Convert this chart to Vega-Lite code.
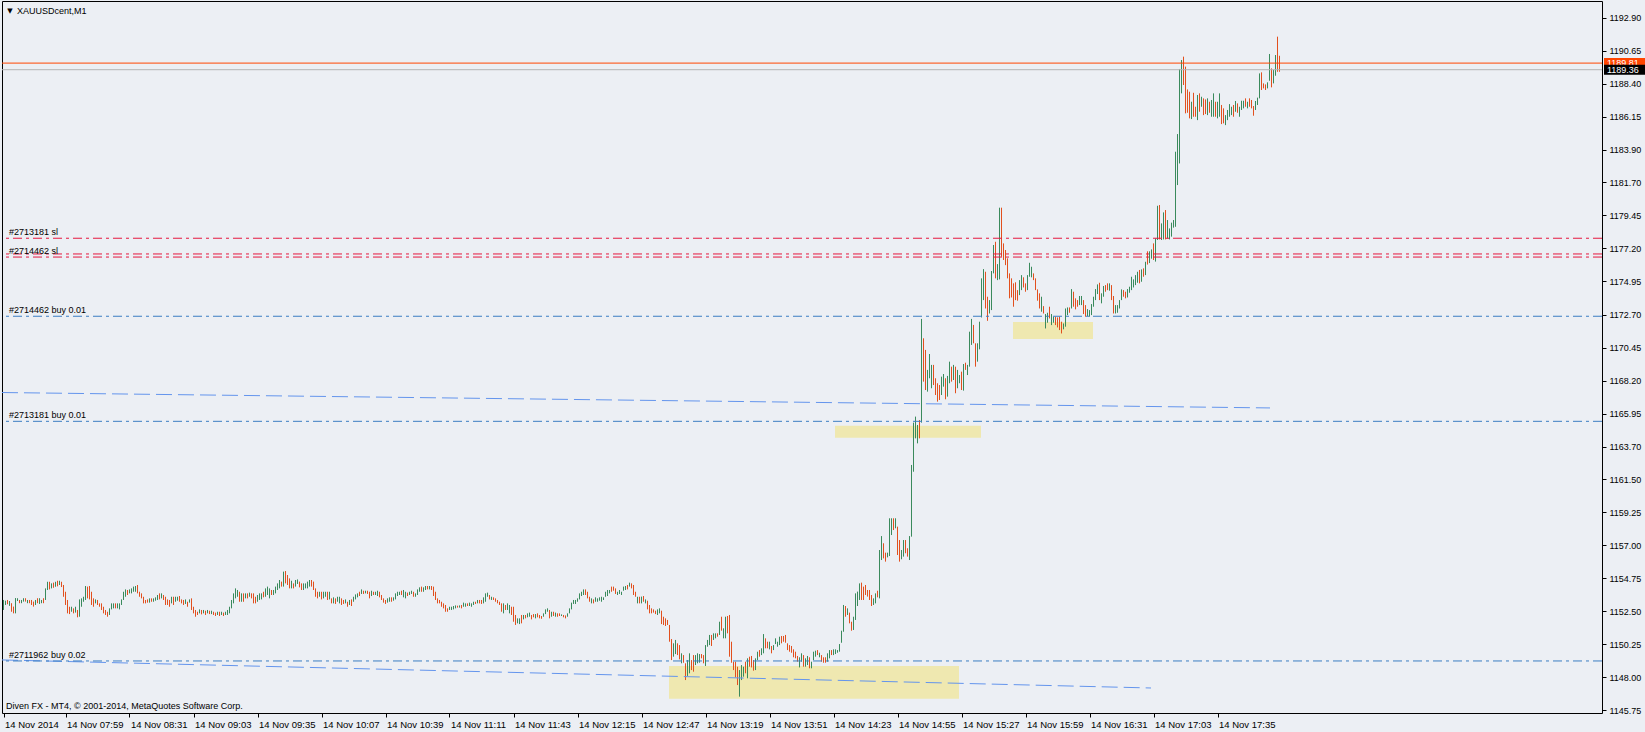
{
"$schema": "https://vega.github.io/schema/vega-lite/v6.json",
"width": 1600, "height": 712,
"autosize": {"type": "none"},
"padding": {"left": 2, "top": 1, "right": 43, "bottom": 19},
"background": "#ECEFF4",
"config": {"view": {"stroke": "#000000", "strokeWidth": 1, "fill": "#ECEFF4"}, "text": {"font": "Liberation Sans"},
 "axis": {"grid": false, "domain": false, "tickSize": 4, "tickColor": "#000000", "labelColor": "#000000", "labelFont": "Liberation Sans", "labelFlush": false, "labelOverlap": false}},
"resolve": {"scale": {"color": "independent", "strokeDash": "independent"}},
"datasets": {
"zones": [{"a":780.75,"b":925.75,"lo":1146.55,"hi":1148.78},{"a":863.75,"b":936.75,"lo":1164.32,"hi":1165.13},{"a":952.75,"b":992.75,"lo":1171.03,"hi":1172.19}],
"ma": [{"id":"a","m":447.25,"p":1167.39},{"id":"a","m":1081.25,"p":1166.34},{"id":"b","m":447.25,"p":1149.19},{"id":"b","m":1021.75,"p":1147.28}],
"levels": [{"k":"sl","p":1177.89,"t":"#2713181 sl"},{"k":"sl","p":1176.82,"t":""},{"k":"sl","p":1176.61,"t":"#2714462 sl"},{"k":"buy","p":1172.58,"t":"#2714462 buy 0.01"},{"k":"buy","p":1165.43,"t":"#2713181 buy 0.01"},{"k":"buy","p":1149.12,"t":"#2711962 buy 0.02"},{"k":"hi","p":1189.81,"t":""},{"k":"lo","p":1189.36,"t":""}],
"tags": [{"c":"hi","p":1189.81,"t":"1189.81"},{"c":"lo","p":1189.36,"t":"1189.36"}],
"notes": [{"r":"sym","t":"▼"},{"r":"title","t":"XAUUSDcent,M1"},{"r":"foot","t":"Diven FX - MT4, © 2001-2014, MetaQuotes Software Corp."}],
"bars": [
{"m":448,"l":1152.59,"h":1153.27,"u":1},{"m":449,"l":1152.93,"h":1153.22,"u":1},{"m":450,"l":1152.98,"h":1153.27,"u":0},{"m":451,"l":1152.87,"h":1153.20,"u":1},{"m":452,"l":1152.47,"h":1153.05,"u":0},{"m":453,"l":1152.36,"h":1152.82,"u":0},{"m":454,"l":1152.36,"h":1153.40,"u":1},{"m":455,"l":1153.20,"h":1153.39,"u":1},{"m":456,"l":1153.05,"h":1153.27,"u":0},{"m":457,"l":1153.05,"h":1153.27,"u":1},
{"m":458,"l":1153.16,"h":1153.39,"u":1},{"m":459,"l":1153.16,"h":1153.39,"u":0},{"m":460,"l":1153.05,"h":1153.27,"u":1},{"m":461,"l":1153.05,"h":1153.27,"u":0},{"m":462,"l":1152.93,"h":1153.27,"u":0},{"m":463,"l":1152.82,"h":1153.16,"u":0},{"m":464,"l":1152.93,"h":1153.27,"u":1},{"m":465,"l":1153.05,"h":1153.39,"u":0},{"m":466,"l":1153.00,"h":1153.39,"u":1},{"m":467,"l":1153.05,"h":1153.27,"u":1},
{"m":468,"l":1153.05,"h":1153.39,"u":0},{"m":469,"l":1153.27,"h":1154.06,"u":1},{"m":470,"l":1153.95,"h":1154.51,"u":1},{"m":471,"l":1153.99,"h":1154.51,"u":0},{"m":472,"l":1154.06,"h":1154.40,"u":1},{"m":473,"l":1154.10,"h":1154.45,"u":0},{"m":474,"l":1154.17,"h":1154.51,"u":1},{"m":475,"l":1154.20,"h":1154.58,"u":0},{"m":476,"l":1154.29,"h":1154.58,"u":1},{"m":477,"l":1154.15,"h":1154.51,"u":0},
{"m":478,"l":1153.49,"h":1154.29,"u":0},{"m":479,"l":1152.93,"h":1153.83,"u":0},{"m":480,"l":1152.36,"h":1153.27,"u":0},{"m":481,"l":1152.31,"h":1152.81,"u":0},{"m":482,"l":1152.47,"h":1152.81,"u":1},{"m":483,"l":1152.36,"h":1152.70,"u":0},{"m":484,"l":1152.41,"h":1152.81,"u":1},{"m":485,"l":1152.09,"h":1152.59,"u":0},{"m":486,"l":1152.13,"h":1153.31,"u":1},{"m":487,"l":1152.81,"h":1153.38,"u":1},
{"m":488,"l":1153.15,"h":1153.49,"u":1},{"m":489,"l":1153.27,"h":1154.22,"u":1},{"m":490,"l":1153.38,"h":1154.18,"u":0},{"m":491,"l":1153.31,"h":1154.22,"u":0},{"m":492,"l":1152.93,"h":1153.83,"u":0},{"m":493,"l":1152.81,"h":1153.38,"u":0},{"m":494,"l":1153.04,"h":1153.31,"u":1},{"m":495,"l":1152.93,"h":1153.27,"u":0},{"m":496,"l":1152.81,"h":1153.04,"u":0},{"m":497,"l":1152.59,"h":1153.04,"u":0},
{"m":498,"l":1152.36,"h":1152.81,"u":0},{"m":499,"l":1152.25,"h":1152.59,"u":0},{"m":500,"l":1152.13,"h":1152.47,"u":0},{"m":501,"l":1152.25,"h":1152.70,"u":1},{"m":502,"l":1152.63,"h":1153.04,"u":1},{"m":503,"l":1152.70,"h":1153.04,"u":1},{"m":504,"l":1152.70,"h":1153.04,"u":0},{"m":505,"l":1152.70,"h":1153.04,"u":1},{"m":506,"l":1152.63,"h":1153.04,"u":1},{"m":507,"l":1152.93,"h":1153.31,"u":1},
{"m":508,"l":1153.27,"h":1153.83,"u":1},{"m":509,"l":1153.49,"h":1153.99,"u":1},{"m":510,"l":1153.61,"h":1153.95,"u":0},{"m":511,"l":1153.72,"h":1153.99,"u":1},{"m":512,"l":1153.72,"h":1154.06,"u":1},{"m":513,"l":1153.83,"h":1154.18,"u":1},{"m":514,"l":1153.83,"h":1154.22,"u":1},{"m":515,"l":1153.72,"h":1154.29,"u":0},{"m":516,"l":1153.49,"h":1153.83,"u":0},{"m":517,"l":1153.38,"h":1153.72,"u":0},
{"m":518,"l":1153.04,"h":1153.49,"u":0},{"m":519,"l":1153.04,"h":1153.27,"u":0},{"m":520,"l":1153.09,"h":1153.31,"u":0},{"m":521,"l":1153.09,"h":1153.38,"u":1},{"m":522,"l":1153.15,"h":1153.38,"u":0},{"m":523,"l":1153.15,"h":1153.38,"u":1},{"m":524,"l":1153.22,"h":1153.45,"u":1},{"m":525,"l":1153.27,"h":1153.61,"u":1},{"m":526,"l":1153.31,"h":1153.72,"u":0},{"m":527,"l":1153.38,"h":1153.72,"u":1},
{"m":528,"l":1153.27,"h":1153.61,"u":0},{"m":529,"l":1152.93,"h":1153.49,"u":0},{"m":530,"l":1152.93,"h":1153.31,"u":0},{"m":531,"l":1152.81,"h":1153.27,"u":0},{"m":532,"l":1153.04,"h":1153.49,"u":1},{"m":533,"l":1152.93,"h":1153.49,"u":0},{"m":534,"l":1153.15,"h":1153.49,"u":1},{"m":535,"l":1153.22,"h":1153.49,"u":1},{"m":536,"l":1153.15,"h":1153.54,"u":0},{"m":537,"l":1153.04,"h":1153.31,"u":0},
{"m":538,"l":1152.93,"h":1153.27,"u":0},{"m":539,"l":1153.00,"h":1153.31,"u":1},{"m":540,"l":1152.81,"h":1153.15,"u":0},{"m":541,"l":1153.09,"h":1153.31,"u":1},{"m":542,"l":1152.59,"h":1153.38,"u":0},{"m":543,"l":1152.36,"h":1152.81,"u":0},{"m":544,"l":1152.13,"h":1152.59,"u":0},{"m":545,"l":1152.25,"h":1152.47,"u":0},{"m":546,"l":1152.36,"h":1152.63,"u":1},{"m":547,"l":1152.29,"h":1152.59,"u":0},
{"m":548,"l":1152.36,"h":1152.59,"u":1},{"m":549,"l":1152.25,"h":1152.54,"u":0},{"m":550,"l":1152.36,"h":1152.59,"u":1},{"m":551,"l":1152.31,"h":1152.54,"u":0},{"m":552,"l":1152.31,"h":1152.54,"u":1},{"m":553,"l":1152.25,"h":1152.47,"u":0},{"m":554,"l":1152.18,"h":1152.41,"u":0},{"m":555,"l":1152.25,"h":1152.47,"u":1},{"m":556,"l":1152.18,"h":1152.47,"u":0},{"m":557,"l":1152.25,"h":1152.47,"u":1},
{"m":558,"l":1152.18,"h":1152.41,"u":0},{"m":559,"l":1152.25,"h":1152.47,"u":1},{"m":560,"l":1152.25,"h":1152.59,"u":1},{"m":561,"l":1152.36,"h":1152.81,"u":1},{"m":562,"l":1152.70,"h":1153.27,"u":1},{"m":563,"l":1153.04,"h":1153.72,"u":1},{"m":564,"l":1153.38,"h":1154.06,"u":1},{"m":565,"l":1153.49,"h":1153.95,"u":1},{"m":566,"l":1153.15,"h":1153.83,"u":0},{"m":567,"l":1153.15,"h":1153.72,"u":1},
{"m":568,"l":1153.15,"h":1153.72,"u":0},{"m":569,"l":1153.38,"h":1153.72,"u":1},{"m":570,"l":1153.38,"h":1153.72,"u":0},{"m":571,"l":1153.49,"h":1153.77,"u":1},{"m":572,"l":1153.38,"h":1153.72,"u":0},{"m":573,"l":1153.04,"h":1153.72,"u":0},{"m":574,"l":1153.04,"h":1153.49,"u":0},{"m":575,"l":1153.15,"h":1153.61,"u":1},{"m":576,"l":1153.27,"h":1153.72,"u":1},{"m":577,"l":1153.31,"h":1153.72,"u":1},
{"m":578,"l":1153.45,"h":1153.83,"u":0},{"m":579,"l":1153.49,"h":1154.06,"u":1},{"m":580,"l":1153.61,"h":1154.18,"u":1},{"m":581,"l":1153.38,"h":1154.06,"u":1},{"m":582,"l":1153.61,"h":1153.95,"u":0},{"m":583,"l":1153.61,"h":1153.95,"u":1},{"m":584,"l":1153.72,"h":1154.18,"u":1},{"m":585,"l":1153.95,"h":1154.40,"u":1},{"m":586,"l":1154.06,"h":1154.63,"u":1},{"m":587,"l":1154.18,"h":1154.52,"u":0},
{"m":588,"l":1154.18,"h":1155.20,"u":1},{"m":589,"l":1154.40,"h":1155.24,"u":0},{"m":590,"l":1154.29,"h":1154.97,"u":0},{"m":591,"l":1154.06,"h":1154.74,"u":0},{"m":592,"l":1154.06,"h":1154.58,"u":1},{"m":593,"l":1154.06,"h":1154.40,"u":0},{"m":594,"l":1154.18,"h":1154.63,"u":1},{"m":595,"l":1154.36,"h":1154.67,"u":1},{"m":596,"l":1154.13,"h":1154.52,"u":0},{"m":597,"l":1153.95,"h":1154.40,"u":0},
{"m":598,"l":1153.95,"h":1154.40,"u":1},{"m":599,"l":1154.06,"h":1154.40,"u":1},{"m":600,"l":1154.06,"h":1154.52,"u":1},{"m":601,"l":1154.18,"h":1154.63,"u":1},{"m":602,"l":1154.18,"h":1154.63,"u":0},{"m":603,"l":1153.95,"h":1154.52,"u":0},{"m":604,"l":1153.49,"h":1154.06,"u":0},{"m":605,"l":1153.38,"h":1153.83,"u":0},{"m":606,"l":1153.49,"h":1153.83,"u":1},{"m":607,"l":1153.31,"h":1153.83,"u":0},
{"m":608,"l":1153.38,"h":1153.83,"u":1},{"m":609,"l":1153.49,"h":1153.83,"u":1},{"m":610,"l":1153.27,"h":1153.83,"u":0},{"m":611,"l":1153.31,"h":1153.83,"u":1},{"m":612,"l":1153.04,"h":1153.38,"u":0},{"m":613,"l":1153.04,"h":1153.45,"u":1},{"m":614,"l":1153.00,"h":1153.38,"u":0},{"m":615,"l":1153.15,"h":1153.49,"u":1},{"m":616,"l":1153.04,"h":1153.49,"u":1},{"m":617,"l":1152.93,"h":1153.38,"u":0},
{"m":618,"l":1153.00,"h":1153.27,"u":0},{"m":619,"l":1153.04,"h":1153.31,"u":1},{"m":620,"l":1152.81,"h":1153.15,"u":0},{"m":621,"l":1152.93,"h":1153.27,"u":1},{"m":622,"l":1152.86,"h":1153.31,"u":0},{"m":623,"l":1153.15,"h":1153.49,"u":1},{"m":624,"l":1153.31,"h":1153.65,"u":1},{"m":625,"l":1153.45,"h":1153.72,"u":1},{"m":626,"l":1153.54,"h":1153.83,"u":0},{"m":627,"l":1153.68,"h":1153.99,"u":1},
{"m":628,"l":1153.68,"h":1153.90,"u":0},{"m":629,"l":1153.72,"h":1153.90,"u":1},{"m":630,"l":1153.68,"h":1153.90,"u":0},{"m":631,"l":1153.38,"h":1153.83,"u":0},{"m":632,"l":1153.54,"h":1153.90,"u":1},{"m":633,"l":1153.61,"h":1153.83,"u":0},{"m":634,"l":1153.61,"h":1153.83,"u":1},{"m":635,"l":1153.54,"h":1153.90,"u":1},{"m":636,"l":1153.45,"h":1153.83,"u":0},{"m":637,"l":1153.27,"h":1153.61,"u":0},
{"m":638,"l":1153.09,"h":1153.38,"u":0},{"m":639,"l":1153.00,"h":1153.27,"u":0},{"m":640,"l":1153.09,"h":1153.38,"u":1},{"m":641,"l":1153.15,"h":1153.45,"u":1},{"m":642,"l":1153.15,"h":1153.45,"u":0},{"m":643,"l":1153.22,"h":1153.45,"u":1},{"m":644,"l":1153.31,"h":1153.72,"u":1},{"m":645,"l":1153.54,"h":1153.83,"u":1},{"m":646,"l":1153.61,"h":1153.83,"u":1},{"m":647,"l":1153.61,"h":1153.90,"u":0},
{"m":648,"l":1153.45,"h":1153.95,"u":1},{"m":649,"l":1153.38,"h":1153.83,"u":1},{"m":650,"l":1153.54,"h":1153.77,"u":0},{"m":651,"l":1153.61,"h":1153.83,"u":1},{"m":652,"l":1153.68,"h":1153.90,"u":1},{"m":653,"l":1153.49,"h":1153.83,"u":0},{"m":654,"l":1153.49,"h":1153.72,"u":1},{"m":655,"l":1153.61,"h":1153.99,"u":1},{"m":656,"l":1153.83,"h":1154.13,"u":1},{"m":657,"l":1153.83,"h":1154.18,"u":0},
{"m":658,"l":1153.83,"h":1154.13,"u":1},{"m":659,"l":1153.95,"h":1154.22,"u":1},{"m":660,"l":1153.99,"h":1154.22,"u":0},{"m":661,"l":1153.99,"h":1154.22,"u":1},{"m":662,"l":1153.95,"h":1154.22,"u":0},{"m":663,"l":1153.54,"h":1154.18,"u":0},{"m":664,"l":1153.27,"h":1153.83,"u":0},{"m":665,"l":1153.04,"h":1153.38,"u":0},{"m":666,"l":1153.04,"h":1153.27,"u":0},{"m":667,"l":1152.81,"h":1153.15,"u":0},
{"m":668,"l":1152.70,"h":1153.04,"u":0},{"m":669,"l":1152.47,"h":1152.93,"u":0},{"m":670,"l":1152.47,"h":1152.70,"u":0},{"m":671,"l":1152.59,"h":1152.81,"u":1},{"m":672,"l":1152.59,"h":1152.81,"u":1},{"m":673,"l":1152.63,"h":1152.86,"u":1},{"m":674,"l":1152.70,"h":1152.90,"u":1},{"m":675,"l":1152.75,"h":1152.88,"u":0},{"m":676,"l":1152.75,"h":1152.90,"u":1},{"m":677,"l":1152.70,"h":1152.93,"u":0},
{"m":678,"l":1152.81,"h":1153.09,"u":1},{"m":679,"l":1152.81,"h":1153.04,"u":1},{"m":680,"l":1152.86,"h":1153.04,"u":0},{"m":681,"l":1152.86,"h":1153.09,"u":1},{"m":682,"l":1152.81,"h":1153.04,"u":1},{"m":683,"l":1152.93,"h":1153.15,"u":1},{"m":684,"l":1153.00,"h":1153.15,"u":0},{"m":685,"l":1153.04,"h":1153.27,"u":1},{"m":686,"l":1153.04,"h":1153.27,"u":0},{"m":687,"l":1153.00,"h":1153.27,"u":0},
{"m":688,"l":1153.04,"h":1153.45,"u":1},{"m":689,"l":1153.15,"h":1153.72,"u":1},{"m":690,"l":1153.49,"h":1153.77,"u":1},{"m":691,"l":1153.31,"h":1153.61,"u":0},{"m":692,"l":1153.27,"h":1153.49,"u":1},{"m":693,"l":1153.27,"h":1153.45,"u":0},{"m":694,"l":1153.15,"h":1153.38,"u":0},{"m":695,"l":1153.04,"h":1153.27,"u":0},{"m":696,"l":1152.93,"h":1153.15,"u":0},{"m":697,"l":1152.47,"h":1153.04,"u":0},
{"m":698,"l":1152.36,"h":1153.04,"u":1},{"m":699,"l":1152.59,"h":1152.93,"u":0},{"m":700,"l":1152.59,"h":1153.04,"u":1},{"m":701,"l":1152.36,"h":1152.93,"u":1},{"m":702,"l":1152.25,"h":1152.81,"u":0},{"m":703,"l":1151.79,"h":1152.81,"u":0},{"m":704,"l":1151.57,"h":1152.25,"u":0},{"m":705,"l":1151.68,"h":1152.02,"u":1},{"m":706,"l":1151.63,"h":1152.02,"u":1},{"m":707,"l":1151.68,"h":1152.25,"u":0},
{"m":708,"l":1151.95,"h":1152.25,"u":1},{"m":709,"l":1152.02,"h":1152.25,"u":0},{"m":710,"l":1152.09,"h":1152.36,"u":1},{"m":711,"l":1152.13,"h":1152.41,"u":1},{"m":712,"l":1151.95,"h":1152.25,"u":0},{"m":713,"l":1152.09,"h":1152.31,"u":0},{"m":714,"l":1152.02,"h":1152.31,"u":1},{"m":715,"l":1152.09,"h":1152.36,"u":0},{"m":716,"l":1152.02,"h":1152.25,"u":0},{"m":717,"l":1151.99,"h":1152.18,"u":0},
{"m":718,"l":1152.13,"h":1152.36,"u":1},{"m":719,"l":1152.31,"h":1152.63,"u":1},{"m":720,"l":1152.47,"h":1152.70,"u":1},{"m":721,"l":1152.02,"h":1152.59,"u":0},{"m":722,"l":1152.13,"h":1152.47,"u":1},{"m":723,"l":1152.18,"h":1152.47,"u":0},{"m":724,"l":1152.13,"h":1152.41,"u":1},{"m":725,"l":1152.13,"h":1152.36,"u":0},{"m":726,"l":1152.18,"h":1152.36,"u":0},{"m":727,"l":1152.18,"h":1152.29,"u":1},
{"m":728,"l":1152.09,"h":1152.25,"u":0},{"m":729,"l":1152.02,"h":1152.22,"u":0},{"m":730,"l":1152.13,"h":1152.36,"u":1},{"m":731,"l":1152.36,"h":1152.70,"u":1},{"m":732,"l":1152.63,"h":1153.09,"u":1},{"m":733,"l":1153.00,"h":1153.27,"u":1},{"m":734,"l":1153.00,"h":1153.27,"u":1},{"m":735,"l":1153.15,"h":1153.38,"u":1},{"m":736,"l":1153.31,"h":1153.72,"u":1},{"m":737,"l":1153.54,"h":1153.83,"u":1},
{"m":738,"l":1153.61,"h":1153.99,"u":1},{"m":739,"l":1153.61,"h":1153.99,"u":0},{"m":740,"l":1153.38,"h":1153.83,"u":0},{"m":741,"l":1153.15,"h":1153.49,"u":0},{"m":742,"l":1153.04,"h":1153.38,"u":1},{"m":743,"l":1153.04,"h":1153.31,"u":0},{"m":744,"l":1153.15,"h":1153.45,"u":1},{"m":745,"l":1153.15,"h":1153.38,"u":1},{"m":746,"l":1153.22,"h":1153.45,"u":1},{"m":747,"l":1153.15,"h":1153.49,"u":1},
{"m":748,"l":1153.27,"h":1153.45,"u":1},{"m":749,"l":1153.49,"h":1153.83,"u":1},{"m":750,"l":1153.54,"h":1153.95,"u":1},{"m":751,"l":1153.72,"h":1153.95,"u":1},{"m":752,"l":1153.83,"h":1154.18,"u":0},{"m":753,"l":1153.90,"h":1154.18,"u":0},{"m":754,"l":1153.68,"h":1154.06,"u":0},{"m":755,"l":1153.61,"h":1153.83,"u":1},{"m":756,"l":1153.68,"h":1153.95,"u":1},{"m":757,"l":1153.61,"h":1153.83,"u":1},
{"m":758,"l":1153.90,"h":1154.18,"u":1},{"m":759,"l":1153.95,"h":1154.22,"u":1},{"m":760,"l":1153.99,"h":1154.29,"u":0},{"m":761,"l":1154.18,"h":1154.45,"u":1},{"m":762,"l":1154.06,"h":1154.40,"u":0},{"m":763,"l":1153.61,"h":1154.29,"u":0},{"m":764,"l":1153.49,"h":1153.83,"u":0},{"m":765,"l":1153.04,"h":1153.49,"u":1},{"m":766,"l":1153.04,"h":1153.49,"u":0},{"m":767,"l":1153.04,"h":1153.50,"u":1},
{"m":768,"l":1153.15,"h":1153.54,"u":0},{"m":769,"l":1153.04,"h":1153.31,"u":1},{"m":770,"l":1152.63,"h":1153.22,"u":0},{"m":771,"l":1152.36,"h":1152.93,"u":0},{"m":772,"l":1152.36,"h":1152.70,"u":0},{"m":773,"l":1152.41,"h":1152.63,"u":0},{"m":774,"l":1152.31,"h":1152.54,"u":0},{"m":775,"l":1152.25,"h":1152.63,"u":1},{"m":776,"l":1152.36,"h":1152.70,"u":1},{"m":777,"l":1151.63,"h":1152.54,"u":0},
{"m":778,"l":1151.57,"h":1152.13,"u":0},{"m":779,"l":1151.50,"h":1152.02,"u":0},{"m":780,"l":1151.57,"h":1151.91,"u":0},{"m":781,"l":1150.43,"h":1151.57,"u":0},{"m":782,"l":1149.18,"h":1150.61,"u":0},{"m":783,"l":1149.41,"h":1150.32,"u":1},{"m":784,"l":1149.59,"h":1150.55,"u":1},{"m":785,"l":1149.52,"h":1150.32,"u":0},{"m":786,"l":1149.23,"h":1150.20,"u":0},{"m":787,"l":1148.96,"h":1149.64,"u":1},
{"m":788,"l":1149.00,"h":1149.52,"u":0},{"m":789,"l":1147.82,"h":1148.96,"u":0},{"m":790,"l":1148.10,"h":1149.18,"u":1},{"m":791,"l":1148.28,"h":1149.64,"u":1},{"m":792,"l":1148.50,"h":1149.18,"u":0},{"m":793,"l":1148.39,"h":1149.52,"u":0},{"m":794,"l":1148.84,"h":1149.52,"u":1},{"m":795,"l":1148.96,"h":1149.64,"u":1},{"m":796,"l":1149.00,"h":1149.59,"u":1},{"m":797,"l":1149.30,"h":1149.59,"u":0},
{"m":798,"l":1148.96,"h":1149.52,"u":0},{"m":799,"l":1148.78,"h":1150.20,"u":1},{"m":800,"l":1150.09,"h":1150.55,"u":1},{"m":801,"l":1150.20,"h":1150.89,"u":1},{"m":802,"l":1150.14,"h":1150.89,"u":0},{"m":803,"l":1150.55,"h":1151.00,"u":1},{"m":804,"l":1150.66,"h":1151.00,"u":1},{"m":805,"l":1150.77,"h":1151.00,"u":0},{"m":806,"l":1150.89,"h":1151.79,"u":1},{"m":807,"l":1151.18,"h":1152.13,"u":0},
{"m":808,"l":1150.66,"h":1151.34,"u":1},{"m":809,"l":1150.66,"h":1152.13,"u":1},{"m":810,"l":1151.00,"h":1152.18,"u":0},{"m":811,"l":1149.41,"h":1152.25,"u":0},{"m":812,"l":1149.00,"h":1150.43,"u":0},{"m":813,"l":1148.50,"h":1149.07,"u":0},{"m":814,"l":1148.00,"h":1149.07,"u":0},{"m":815,"l":1147.48,"h":1148.73,"u":0},{"m":816,"l":1146.69,"h":1148.50,"u":1},{"m":817,"l":1147.82,"h":1148.84,"u":1},
{"m":818,"l":1148.05,"h":1148.73,"u":1},{"m":819,"l":1148.28,"h":1149.07,"u":0},{"m":820,"l":1147.94,"h":1149.30,"u":1},{"m":821,"l":1148.73,"h":1149.41,"u":0},{"m":822,"l":1148.68,"h":1149.46,"u":0},{"m":823,"l":1148.46,"h":1149.18,"u":0},{"m":824,"l":1148.50,"h":1149.30,"u":1},{"m":825,"l":1149.18,"h":1149.75,"u":1},{"m":826,"l":1149.41,"h":1149.86,"u":0},{"m":827,"l":1149.52,"h":1149.98,"u":1},
{"m":828,"l":1149.64,"h":1150.95,"u":1},{"m":829,"l":1149.98,"h":1150.66,"u":0},{"m":830,"l":1149.98,"h":1150.43,"u":0},{"m":831,"l":1149.91,"h":1150.43,"u":1},{"m":832,"l":1149.64,"h":1150.14,"u":0},{"m":833,"l":1149.86,"h":1150.20,"u":1},{"m":834,"l":1150.27,"h":1150.66,"u":1},{"m":835,"l":1150.09,"h":1150.43,"u":1},{"m":836,"l":1150.20,"h":1150.77,"u":1},{"m":837,"l":1150.32,"h":1150.82,"u":0},
{"m":838,"l":1150.43,"h":1150.82,"u":0},{"m":839,"l":1150.36,"h":1150.89,"u":0},{"m":840,"l":1149.86,"h":1150.32,"u":0},{"m":841,"l":1149.75,"h":1150.20,"u":0},{"m":842,"l":1149.68,"h":1150.14,"u":0},{"m":843,"l":1149.37,"h":1149.91,"u":0},{"m":844,"l":1149.30,"h":1149.75,"u":0},{"m":845,"l":1149.07,"h":1149.46,"u":0},{"m":846,"l":1148.68,"h":1149.37,"u":1},{"m":847,"l":1149.07,"h":1149.64,"u":1},
{"m":848,"l":1148.73,"h":1149.52,"u":0},{"m":849,"l":1148.73,"h":1149.30,"u":1},{"m":850,"l":1148.84,"h":1149.46,"u":1},{"m":851,"l":1148.62,"h":1149.37,"u":0},{"m":852,"l":1148.62,"h":1149.07,"u":1},{"m":853,"l":1149.18,"h":1149.75,"u":1},{"m":854,"l":1149.41,"h":1149.82,"u":1},{"m":855,"l":1149.52,"h":1149.86,"u":0},{"m":856,"l":1149.37,"h":1149.68,"u":1},{"m":857,"l":1149.07,"h":1149.52,"u":0},
{"m":858,"l":1149.00,"h":1149.37,"u":0},{"m":859,"l":1149.00,"h":1149.37,"u":0},{"m":860,"l":1149.07,"h":1149.64,"u":1},{"m":861,"l":1149.30,"h":1149.86,"u":1},{"m":862,"l":1149.52,"h":1149.86,"u":0},{"m":863,"l":1149.52,"h":1149.91,"u":1},{"m":864,"l":1149.59,"h":1149.91,"u":1},{"m":865,"l":1149.68,"h":1149.86,"u":1},{"m":866,"l":1149.75,"h":1150.27,"u":1},{"m":867,"l":1150.36,"h":1151.18,"u":1},
{"m":868,"l":1151.11,"h":1152.93,"u":1},{"m":869,"l":1152.13,"h":1152.86,"u":0},{"m":870,"l":1152.25,"h":1152.70,"u":1},{"m":871,"l":1151.68,"h":1152.41,"u":0},{"m":872,"l":1151.18,"h":1151.79,"u":0},{"m":873,"l":1151.23,"h":1152.13,"u":1},{"m":874,"l":1151.91,"h":1153.72,"u":1},{"m":875,"l":1152.86,"h":1153.84,"u":1},{"m":876,"l":1153.27,"h":1154.40,"u":1},{"m":877,"l":1153.27,"h":1154.45,"u":0},
{"m":878,"l":1153.27,"h":1154.18,"u":0},{"m":879,"l":1153.61,"h":1154.29,"u":0},{"m":880,"l":1153.50,"h":1153.95,"u":0},{"m":881,"l":1153.27,"h":1153.95,"u":0},{"m":882,"l":1152.86,"h":1153.61,"u":0},{"m":883,"l":1152.93,"h":1153.38,"u":1},{"m":884,"l":1153.04,"h":1153.72,"u":1},{"m":885,"l":1153.45,"h":1153.90,"u":0},{"m":886,"l":1153.38,"h":1156.67,"u":1},{"m":887,"l":1155.99,"h":1157.62,"u":1},
{"m":888,"l":1156.10,"h":1157.13,"u":0},{"m":889,"l":1155.88,"h":1156.49,"u":0},{"m":890,"l":1156.17,"h":1156.49,"u":1},{"m":891,"l":1156.26,"h":1158.83,"u":1},{"m":892,"l":1157.69,"h":1158.83,"u":1},{"m":893,"l":1158.03,"h":1158.83,"u":0},{"m":894,"l":1158.15,"h":1158.83,"u":1},{"m":895,"l":1156.33,"h":1158.26,"u":0},{"m":896,"l":1155.88,"h":1157.35,"u":0},{"m":897,"l":1156.04,"h":1156.67,"u":1},
{"m":898,"l":1156.22,"h":1157.35,"u":1},{"m":899,"l":1156.45,"h":1157.35,"u":0},{"m":900,"l":1156.22,"h":1156.79,"u":0},{"m":901,"l":1155.99,"h":1157.62,"u":1},{"m":902,"l":1157.58,"h":1162.46,"u":1},{"m":903,"l":1162.00,"h":1165.34,"u":1},{"m":904,"l":1164.27,"h":1165.75,"u":1},{"m":905,"l":1163.93,"h":1165.18,"u":1},{"m":906,"l":1164.27,"h":1165.52,"u":0},{"m":907,"l":1165.34,"h":1172.40,"u":1},
{"m":908,"l":1168.13,"h":1171.08,"u":0},{"m":909,"l":1167.56,"h":1170.29,"u":0},{"m":910,"l":1167.45,"h":1168.93,"u":1},{"m":911,"l":1168.36,"h":1170.01,"u":1},{"m":912,"l":1167.68,"h":1169.27,"u":1},{"m":913,"l":1167.90,"h":1169.27,"u":0},{"m":914,"l":1167.22,"h":1168.36,"u":0},{"m":915,"l":1166.77,"h":1168.02,"u":0},{"m":916,"l":1166.88,"h":1167.90,"u":0},{"m":917,"l":1167.22,"h":1168.47,"u":1},
{"m":918,"l":1167.79,"h":1168.65,"u":1},{"m":919,"l":1166.93,"h":1168.36,"u":0},{"m":920,"l":1167.11,"h":1168.52,"u":1},{"m":921,"l":1168.02,"h":1169.49,"u":1},{"m":922,"l":1168.13,"h":1169.15,"u":0},{"m":923,"l":1168.24,"h":1169.27,"u":1},{"m":924,"l":1167.34,"h":1169.15,"u":0},{"m":925,"l":1167.68,"h":1168.93,"u":1},{"m":926,"l":1168.02,"h":1168.58,"u":1},{"m":927,"l":1167.56,"h":1168.81,"u":0},
{"m":928,"l":1167.52,"h":1169.33,"u":1},{"m":929,"l":1168.93,"h":1169.42,"u":0},{"m":930,"l":1168.58,"h":1169.27,"u":1},{"m":931,"l":1169.15,"h":1171.53,"u":1},{"m":932,"l":1170.63,"h":1172.40,"u":1},{"m":933,"l":1170.74,"h":1171.99,"u":0},{"m":934,"l":1169.15,"h":1170.74,"u":0},{"m":935,"l":1169.49,"h":1170.74,"u":1},{"m":936,"l":1170.33,"h":1172.21,"u":1},{"m":937,"l":1172.50,"h":1175.16,"u":1},
{"m":938,"l":1173.68,"h":1175.79,"u":1},{"m":939,"l":1173.11,"h":1175.61,"u":0},{"m":940,"l":1172.27,"h":1173.91,"u":0},{"m":941,"l":1172.77,"h":1173.68,"u":1},{"m":942,"l":1173.00,"h":1175.66,"u":1},{"m":943,"l":1175.50,"h":1177.43,"u":1},{"m":944,"l":1175.16,"h":1177.65,"u":0},{"m":945,"l":1175.04,"h":1176.13,"u":1},{"m":946,"l":1175.09,"h":1179.97,"u":1},{"m":947,"l":1176.63,"h":1179.97,"u":0},
{"m":948,"l":1176.41,"h":1177.54,"u":0},{"m":949,"l":1176.06,"h":1177.09,"u":0},{"m":950,"l":1175.16,"h":1176.52,"u":0},{"m":951,"l":1173.80,"h":1175.50,"u":0},{"m":952,"l":1173.86,"h":1175.16,"u":0},{"m":953,"l":1173.23,"h":1174.82,"u":0},{"m":954,"l":1173.68,"h":1174.89,"u":0},{"m":955,"l":1173.64,"h":1174.36,"u":0},{"m":956,"l":1174.02,"h":1175.04,"u":1},{"m":957,"l":1174.36,"h":1175.38,"u":1},
{"m":958,"l":1174.54,"h":1175.23,"u":0},{"m":959,"l":1174.25,"h":1174.82,"u":0},{"m":960,"l":1174.36,"h":1175.38,"u":1},{"m":961,"l":1175.27,"h":1176.22,"u":1},{"m":962,"l":1175.23,"h":1175.95,"u":1},{"m":963,"l":1175.04,"h":1175.50,"u":0},{"m":964,"l":1174.36,"h":1175.16,"u":0},{"m":965,"l":1173.64,"h":1174.41,"u":0},{"m":966,"l":1173.11,"h":1174.14,"u":0},{"m":967,"l":1172.89,"h":1173.91,"u":1},
{"m":968,"l":1172.77,"h":1173.27,"u":0},{"m":969,"l":1171.75,"h":1172.73,"u":1},{"m":970,"l":1172.14,"h":1172.82,"u":1},{"m":971,"l":1172.43,"h":1173.23,"u":0},{"m":972,"l":1171.98,"h":1172.73,"u":1},{"m":973,"l":1172.14,"h":1172.55,"u":1},{"m":974,"l":1171.98,"h":1172.55,"u":0},{"m":975,"l":1171.82,"h":1172.50,"u":0},{"m":976,"l":1171.64,"h":1172.55,"u":0},{"m":977,"l":1171.41,"h":1172.21,"u":0},
{"m":978,"l":1171.69,"h":1172.09,"u":1},{"m":979,"l":1171.87,"h":1173.11,"u":1},{"m":980,"l":1172.66,"h":1173.18,"u":1},{"m":981,"l":1172.82,"h":1173.18,"u":0},{"m":982,"l":1173.11,"h":1174.43,"u":1},{"m":983,"l":1173.23,"h":1174.25,"u":0},{"m":984,"l":1173.05,"h":1173.80,"u":0},{"m":985,"l":1173.23,"h":1173.68,"u":0},{"m":986,"l":1173.34,"h":1173.96,"u":1},{"m":987,"l":1173.34,"h":1173.96,"u":1},
{"m":988,"l":1172.73,"h":1173.68,"u":0},{"m":989,"l":1172.55,"h":1173.34,"u":0},{"m":990,"l":1172.59,"h":1173.07,"u":1},{"m":991,"l":1172.55,"h":1173.00,"u":1},{"m":992,"l":1172.66,"h":1173.41,"u":1},{"m":993,"l":1173.23,"h":1173.91,"u":1},{"m":994,"l":1173.68,"h":1174.43,"u":1},{"m":995,"l":1174.09,"h":1174.75,"u":1},{"m":996,"l":1173.68,"h":1174.86,"u":0},{"m":997,"l":1173.46,"h":1174.14,"u":1},
{"m":998,"l":1173.91,"h":1174.64,"u":1},{"m":999,"l":1174.25,"h":1174.70,"u":0},{"m":1000,"l":1174.36,"h":1174.82,"u":0},{"m":1001,"l":1174.32,"h":1174.82,"u":1},{"m":1002,"l":1173.68,"h":1174.70,"u":0},{"m":1003,"l":1172.77,"h":1173.96,"u":0},{"m":1004,"l":1172.77,"h":1173.34,"u":1},{"m":1005,"l":1172.82,"h":1173.34,"u":1},{"m":1006,"l":1173.11,"h":1173.68,"u":1},{"m":1007,"l":1173.68,"h":1174.41,"u":1},
{"m":1008,"l":1173.91,"h":1174.36,"u":0},{"m":1009,"l":1173.80,"h":1174.25,"u":0},{"m":1010,"l":1173.86,"h":1174.43,"u":1},{"m":1011,"l":1174.18,"h":1174.59,"u":1},{"m":1012,"l":1174.36,"h":1175.27,"u":1},{"m":1013,"l":1174.54,"h":1175.09,"u":1},{"m":1014,"l":1174.70,"h":1175.38,"u":1},{"m":1015,"l":1174.86,"h":1175.61,"u":1},{"m":1016,"l":1174.82,"h":1175.73,"u":0},{"m":1017,"l":1174.93,"h":1175.77,"u":1},
{"m":1018,"l":1175.27,"h":1175.84,"u":0},{"m":1019,"l":1175.38,"h":1176.29,"u":1},{"m":1020,"l":1176.10,"h":1177.00,"u":0},{"m":1021,"l":1176.20,"h":1177.00,"u":1},{"m":1022,"l":1176.50,"h":1177.13,"u":1},{"m":1023,"l":1176.41,"h":1177.54,"u":0},{"m":1024,"l":1176.30,"h":1177.88,"u":1},{"m":1025,"l":1177.77,"h":1180.10,"u":1},{"m":1026,"l":1177.81,"h":1180.15,"u":0},{"m":1027,"l":1177.77,"h":1178.90,"u":1},
{"m":1028,"l":1177.81,"h":1179.65,"u":1},{"m":1029,"l":1177.81,"h":1179.81,"u":0},{"m":1030,"l":1177.88,"h":1179.13,"u":1},{"m":1031,"l":1177.81,"h":1178.56,"u":1},{"m":1032,"l":1178.00,"h":1178.95,"u":1},{"m":1033,"l":1178.61,"h":1179.13,"u":1},{"m":1034,"l":1178.67,"h":1183.78,"u":1},{"m":1035,"l":1181.51,"h":1184.98,"u":1},{"m":1036,"l":1182.98,"h":1189.41,"u":1},{"m":1037,"l":1187.75,"h":1190.02,"u":1},
{"m":1038,"l":1188.32,"h":1190.25,"u":0},{"m":1039,"l":1186.39,"h":1189.57,"u":0},{"m":1040,"l":1186.43,"h":1188.02,"u":0},{"m":1041,"l":1186.05,"h":1187.86,"u":0},{"m":1042,"l":1186.00,"h":1187.18,"u":1},{"m":1043,"l":1186.16,"h":1187.79,"u":0},{"m":1044,"l":1186.16,"h":1186.84,"u":0},{"m":1045,"l":1185.93,"h":1187.64,"u":1},{"m":1046,"l":1186.50,"h":1187.75,"u":0},{"m":1047,"l":1186.84,"h":1187.52,"u":1},
{"m":1048,"l":1186.27,"h":1187.41,"u":0},{"m":1049,"l":1186.34,"h":1187.34,"u":0},{"m":1050,"l":1186.27,"h":1187.41,"u":1},{"m":1051,"l":1186.43,"h":1187.18,"u":0},{"m":1052,"l":1186.16,"h":1187.30,"u":1},{"m":1053,"l":1186.16,"h":1187.75,"u":1},{"m":1054,"l":1186.16,"h":1187.18,"u":0},{"m":1055,"l":1186.05,"h":1187.18,"u":1},{"m":1056,"l":1186.16,"h":1187.75,"u":1},{"m":1057,"l":1185.66,"h":1186.96,"u":0},
{"m":1058,"l":1185.71,"h":1186.73,"u":0},{"m":1059,"l":1185.59,"h":1186.27,"u":1},{"m":1060,"l":1185.93,"h":1186.62,"u":1},{"m":1061,"l":1186.16,"h":1187.02,"u":1},{"m":1062,"l":1186.27,"h":1186.84,"u":1},{"m":1063,"l":1186.16,"h":1186.96,"u":0},{"m":1064,"l":1186.50,"h":1187.23,"u":1},{"m":1065,"l":1186.43,"h":1187.07,"u":0},{"m":1066,"l":1186.16,"h":1186.84,"u":1},{"m":1067,"l":1186.62,"h":1187.25,"u":1},
{"m":1068,"l":1186.73,"h":1187.25,"u":1},{"m":1069,"l":1186.84,"h":1187.41,"u":0},{"m":1070,"l":1186.73,"h":1187.18,"u":1},{"m":1071,"l":1186.84,"h":1187.41,"u":0},{"m":1072,"l":1186.73,"h":1187.30,"u":0},{"m":1073,"l":1186.23,"h":1186.89,"u":0},{"m":1074,"l":1186.62,"h":1187.23,"u":1},{"m":1075,"l":1186.96,"h":1187.46,"u":1},{"m":1076,"l":1187.41,"h":1189.11,"u":1},{"m":1077,"l":1187.98,"h":1189.18,"u":0},
{"m":1078,"l":1188.09,"h":1188.43,"u":0},{"m":1079,"l":1187.98,"h":1188.36,"u":0},{"m":1080,"l":1188.09,"h":1188.50,"u":1},{"m":1081,"l":1188.61,"h":1190.43,"u":1},{"m":1082,"l":1188.16,"h":1189.45,"u":0},{"m":1083,"l":1188.43,"h":1189.34,"u":1},{"m":1084,"l":1188.95,"h":1190.36,"u":1},{"m":1085,"l":1189.22,"h":1191.61,"u":0},{"m":1086,"l":1189.22,"h":1190.31,"u":0}
]
},
"layer": [
{"data": {"name": "zones"}, "mark": {"type": "rect", "color": "#EFE8B0"},
 "encoding": {"x": {"field": "a", "type": "quantitative", "title": null, "scale": {"domain": [447.25, 1247.25], "nice": false, "zero": false}}, "x2": {"field": "b"},
  "y": {"field": "lo", "type": "quantitative", "title": null, "scale": {"domain": [1145.578, 1194.037], "nice": false, "zero": false}}, "y2": {"field": "hi"}}},
{"data": {"name": "bars"}, "mark": {"type": "rule", "strokeWidth": 1},
 "encoding": {
  "x": {"field": "m", "type": "quantitative", "title": null, "scale": {"domain": [447.25, 1247.25], "nice": false, "zero": false},
   "axis": {"values": [448,479,511,543,575,607,639,671,703,735,767,799,831,863,895,927,959,991,1023,1055], "tickCount": 100,
    "labelExpr": "datum.value == 448 ? '14 Nov 2014' : '14 Nov ' + (floor(datum.value / 60) < 10 ? '0' : '') + floor(datum.value / 60) + ':' + (datum.value % 60 < 10 ? '0' : '') + (datum.value % 60)",
    "title": null, "grid": false, "domain": false, "orient": "bottom", "tickSize": 4, "tickColor": "#000000", "labelColor": "#000000", "labelFont": "Liberation Sans", "labelFontSize": 9.5, "labelAlign": "left", "labelBaseline": "top", "labelPadding": 2, "labelOffset": 1, "labelFlush": false, "labelOverlap": false, "labelBound": false}},
  "y": {"field": "l", "type": "quantitative", "title": null, "scale": {"domain": [1145.578, 1194.037], "nice": false, "zero": false},
   "axis": {"orient": "right", "values": [1192.90,1190.65,1188.40,1186.15,1183.90,1181.70,1179.45,1177.20,1174.95,1172.70,1170.45,1168.20,1165.95,1163.70,1161.50,1159.25,1157.00,1154.75,1152.50,1150.25,1148.00,1145.75], "tickCount": 100,
    "format": ".2f", "title": null, "grid": false, "domain": false, "tickSize": 4, "tickColor": "#000000", "labelColor": "#000000", "labelFont": "Liberation Sans", "labelFontSize": 9, "labelPadding": 3, "labelFlush": false, "labelOverlap": false}},
  "y2": {"field": "h"},
  "color": {"field": "u", "type": "nominal", "scale": {"domain": [0, 1], "range": ["#E2501E", "#3A8A5C"]}, "legend": null}}},
{"data": {"name": "ma"}, "mark": {"type": "line", "color": "#6495ED", "strokeWidth": 1, "strokeDash": [16, 6]},
 "encoding": {"x": {"field": "m", "type": "quantitative", "title": null, "scale": {"domain": [447.25, 1247.25], "nice": false, "zero": false}},
  "y": {"field": "p", "type": "quantitative", "title": null, "scale": {"domain": [1145.578, 1194.037], "nice": false, "zero": false}},
  "detail": {"field": "id"}}},
{"data": {"name": "levels"}, "mark": {"type": "rule", "strokeWidth": 1},
 "encoding": {"y": {"field": "p", "type": "quantitative", "title": null, "scale": {"domain": [1145.578, 1194.037], "nice": false, "zero": false}},
  "color": {"field": "k", "type": "nominal", "scale": {"domain": ["sl", "buy", "hi", "lo"], "range": ["#E6173F", "#3B7DC2", "#FF4500", "#B4B4B4"]}, "legend": null},
  "strokeDash": {"field": "k", "type": "nominal", "scale": {"domain": ["sl", "buy", "hi", "lo"], "range": [[9, 4, 3, 4], [9, 4, 3, 4], [1, 0], [1, 0]]}, "legend": null}}},
{"data": {"name": "levels"}, "transform": [{"filter": "datum.t != ''"}],
 "mark": {"type": "text", "align": "left", "baseline": "alphabetic", "dy": -3, "fontSize": 9, "color": "#000000", "font": "Liberation Sans"},
 "encoding": {"x": {"datum": 450.75, "type": "quantitative", "title": null},
  "y": {"field": "p", "type": "quantitative", "title": null, "scale": {"domain": [1145.578, 1194.037], "nice": false, "zero": false}},
  "text": {"field": "t"}}},
{"data": {"name": "notes"}, "transform": [{"filter": "datum.r == 'sym'"}],
 "mark": {"type": "text", "align": "center", "baseline": "middle", "fontSize": 7, "color": "#000000", "font": "DejaVu Sans"},
 "encoding": {"x": {"datum": 451.25, "type": "quantitative", "title": null}, "y": {"datum": 1193.39, "type": "quantitative", "title": null}, "text": {"field": "t"}}},
{"data": {"name": "notes"}, "transform": [{"filter": "datum.r == 'title'"}],
 "mark": {"type": "text", "align": "left", "baseline": "alphabetic", "fontSize": 9, "color": "#000000", "font": "Liberation Sans"},
 "encoding": {"x": {"datum": 454.75, "type": "quantitative", "title": null}, "y": {"datum": 1193.13, "type": "quantitative", "title": null}, "text": {"field": "t"}}},
{"data": {"name": "notes"}, "transform": [{"filter": "datum.r == 'foot'"}],
 "mark": {"type": "text", "align": "left", "baseline": "alphabetic", "fontSize": 9, "color": "#000000", "font": "Liberation Sans"},
 "encoding": {"x": {"datum": 449.25, "type": "quantitative", "title": null}, "y": {"datum": 1145.82, "type": "quantitative", "title": null}, "text": {"field": "t"}}},
{"data": {"name": "tags"}, "transform": [{"filter": "datum.c == 'hi'"}], "mark": {"type": "rect", "height": 10, "color": "#FF4500"},
 "encoding": {"x": {"datum": 1248.25, "type": "quantitative", "title": null}, "x2": {"datum": 1268.75},
  "y": {"field": "p", "type": "quantitative", "title": null, "scale": {"domain": [1145.578, 1194.037], "nice": false, "zero": false}}}},
{"data": {"name": "tags"}, "transform": [{"filter": "datum.c == 'hi'"}], "mark": {"type": "text", "align": "left", "baseline": "middle", "fontSize": 9, "color": "#FFFFFF", "font": "Liberation Sans"},
 "encoding": {"x": {"datum": 1249.75, "type": "quantitative", "title": null},
  "y": {"field": "p", "type": "quantitative", "title": null, "scale": {"domain": [1145.578, 1194.037], "nice": false, "zero": false}},
  "text": {"field": "t"}}},
{"data": {"name": "tags"}, "transform": [{"filter": "datum.c == 'lo'"}], "mark": {"type": "rect", "height": 10, "color": "#000000"},
 "encoding": {"x": {"datum": 1248.25, "type": "quantitative", "title": null}, "x2": {"datum": 1268.75},
  "y": {"field": "p", "type": "quantitative", "title": null, "scale": {"domain": [1145.578, 1194.037], "nice": false, "zero": false}}}},
{"data": {"name": "tags"}, "transform": [{"filter": "datum.c == 'lo'"}], "mark": {"type": "text", "align": "left", "baseline": "middle", "fontSize": 9, "color": "#FFFFFF", "font": "Liberation Sans"},
 "encoding": {"x": {"datum": 1249.75, "type": "quantitative", "title": null},
  "y": {"field": "p", "type": "quantitative", "title": null, "scale": {"domain": [1145.578, 1194.037], "nice": false, "zero": false}},
  "text": {"field": "t"}}}
]
}
